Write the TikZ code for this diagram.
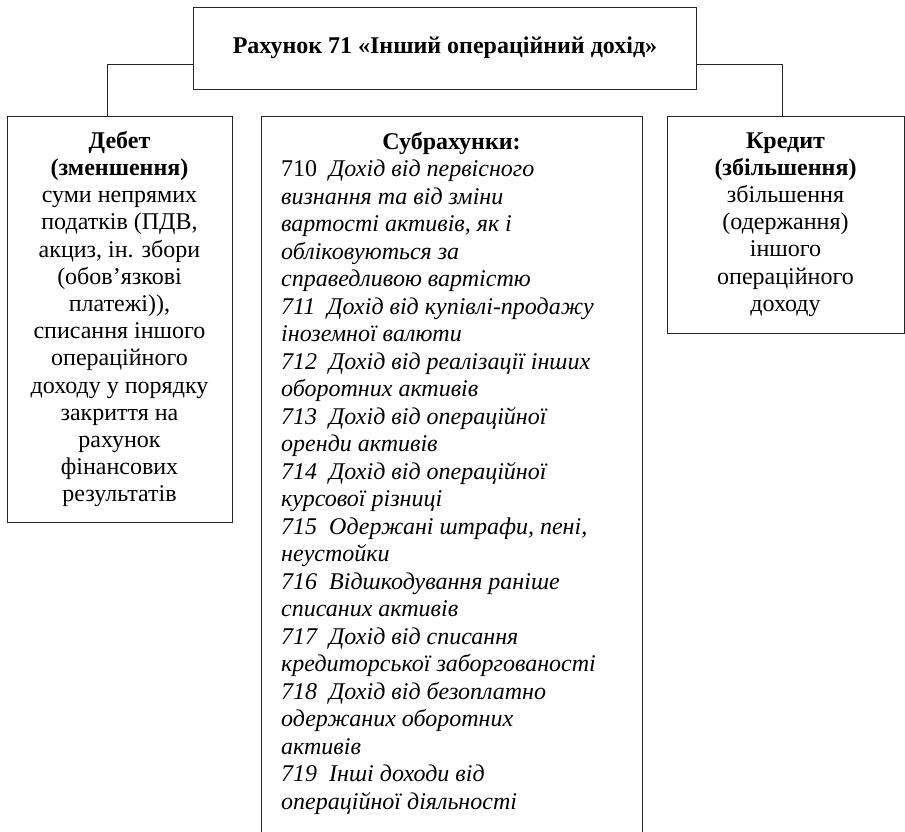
\documentclass[tikz,border=0pt]{standalone}
\usepackage{fontspec}
\setmainfont{Liberation Serif}
\tikzset{
  box/.style={draw=black!85, line width=0.9pt, inner sep=0pt, rectangle},
  boxtext/.style={font=\fontsize{24}{27.2}\selectfont, align=center},
  conn/.style={draw=black!85, line width=0.9pt},
}
\begin{document}
\begin{tikzpicture}[x=1pt,y=-1pt]
\useasboundingbox (0,0) rectangle (905,832);
\node[box, minimum width=503pt, minimum height=82pt, font=\fontsize{24}{27}\selectfont\bfseries] (top) at (445,48) {Рахунок 71 «Інший операційний дохід»};
\node[box, boxtext, minimum width=225pt, minimum height=406pt] (left) at (119.5,319) {\textbf{Дебет}\\\textbf{(зменшення)}\\суми непрямих\\податків (ПДВ,\\акциз, ін. збори\\(обов’язкові\\платежі)),\\списання іншого\\операційного\\доходу у порядку\\закриття на\\рахунок\\фінансових\\результатів};
\node[box, minimum width=381pt, minimum height=729pt] (mid) at (451.5,480.5) {};
\node[box, boxtext, minimum width=237pt, minimum height=217pt] (right) at (785.5,224.5) {\textbf{Кредит}\\\textbf{(збільшення)}\\збільшення\\(одержання)\\іншого\\операційного\\доходу};
\node[font=\fontsize{24}{27.5}\selectfont\bfseries, inner sep=0pt, anchor=north] (subh) at (451.5,132) {Субрахунки:};
\node[font=\fontsize{24}{27.5}\selectfont, align=left, inner sep=0pt, anchor=north west] (subs) at (281,160) {710\ \ \textit{Дохід від первісного}\\\textit{визнання та від зміни}\\\textit{вартості активів, як і}\\\textit{обліковуються за}\\\textit{справедливою вартістю}\\\textit{711\ \ Дохід від купівлі-продажу}\\\textit{іноземної валюти}\\\textit{712\ \ Дохід від реалізації інших}\\\textit{оборотних активів}\\\textit{713\ \ Дохід від операційної}\\\textit{оренди активів}\\\textit{714\ \ Дохід від операційної}\\\textit{курсової різниці}\\\textit{715\ \ Одержані штрафи, пені,}\\\textit{неустойки}\\\textit{716\ \ Відшкодування раніше}\\\textit{списаних активів}\\\textit{717\ \ Дохід від списання}\\\textit{кредиторської заборгованості}\\\textit{718\ \ Дохід від безоплатно}\\\textit{одержаних оборотних}\\\textit{активів}\\\textit{719\ \ Інші доходи від}\\\textit{операційної діяльності}};
\draw[conn] ([yshift=-16pt]top.west) -| ([xshift=-12.5pt]left.north);
\draw[conn] ([yshift=-16pt]top.east) -| ([xshift=-3.5pt]right.north);
\end{tikzpicture}
\end{document}
